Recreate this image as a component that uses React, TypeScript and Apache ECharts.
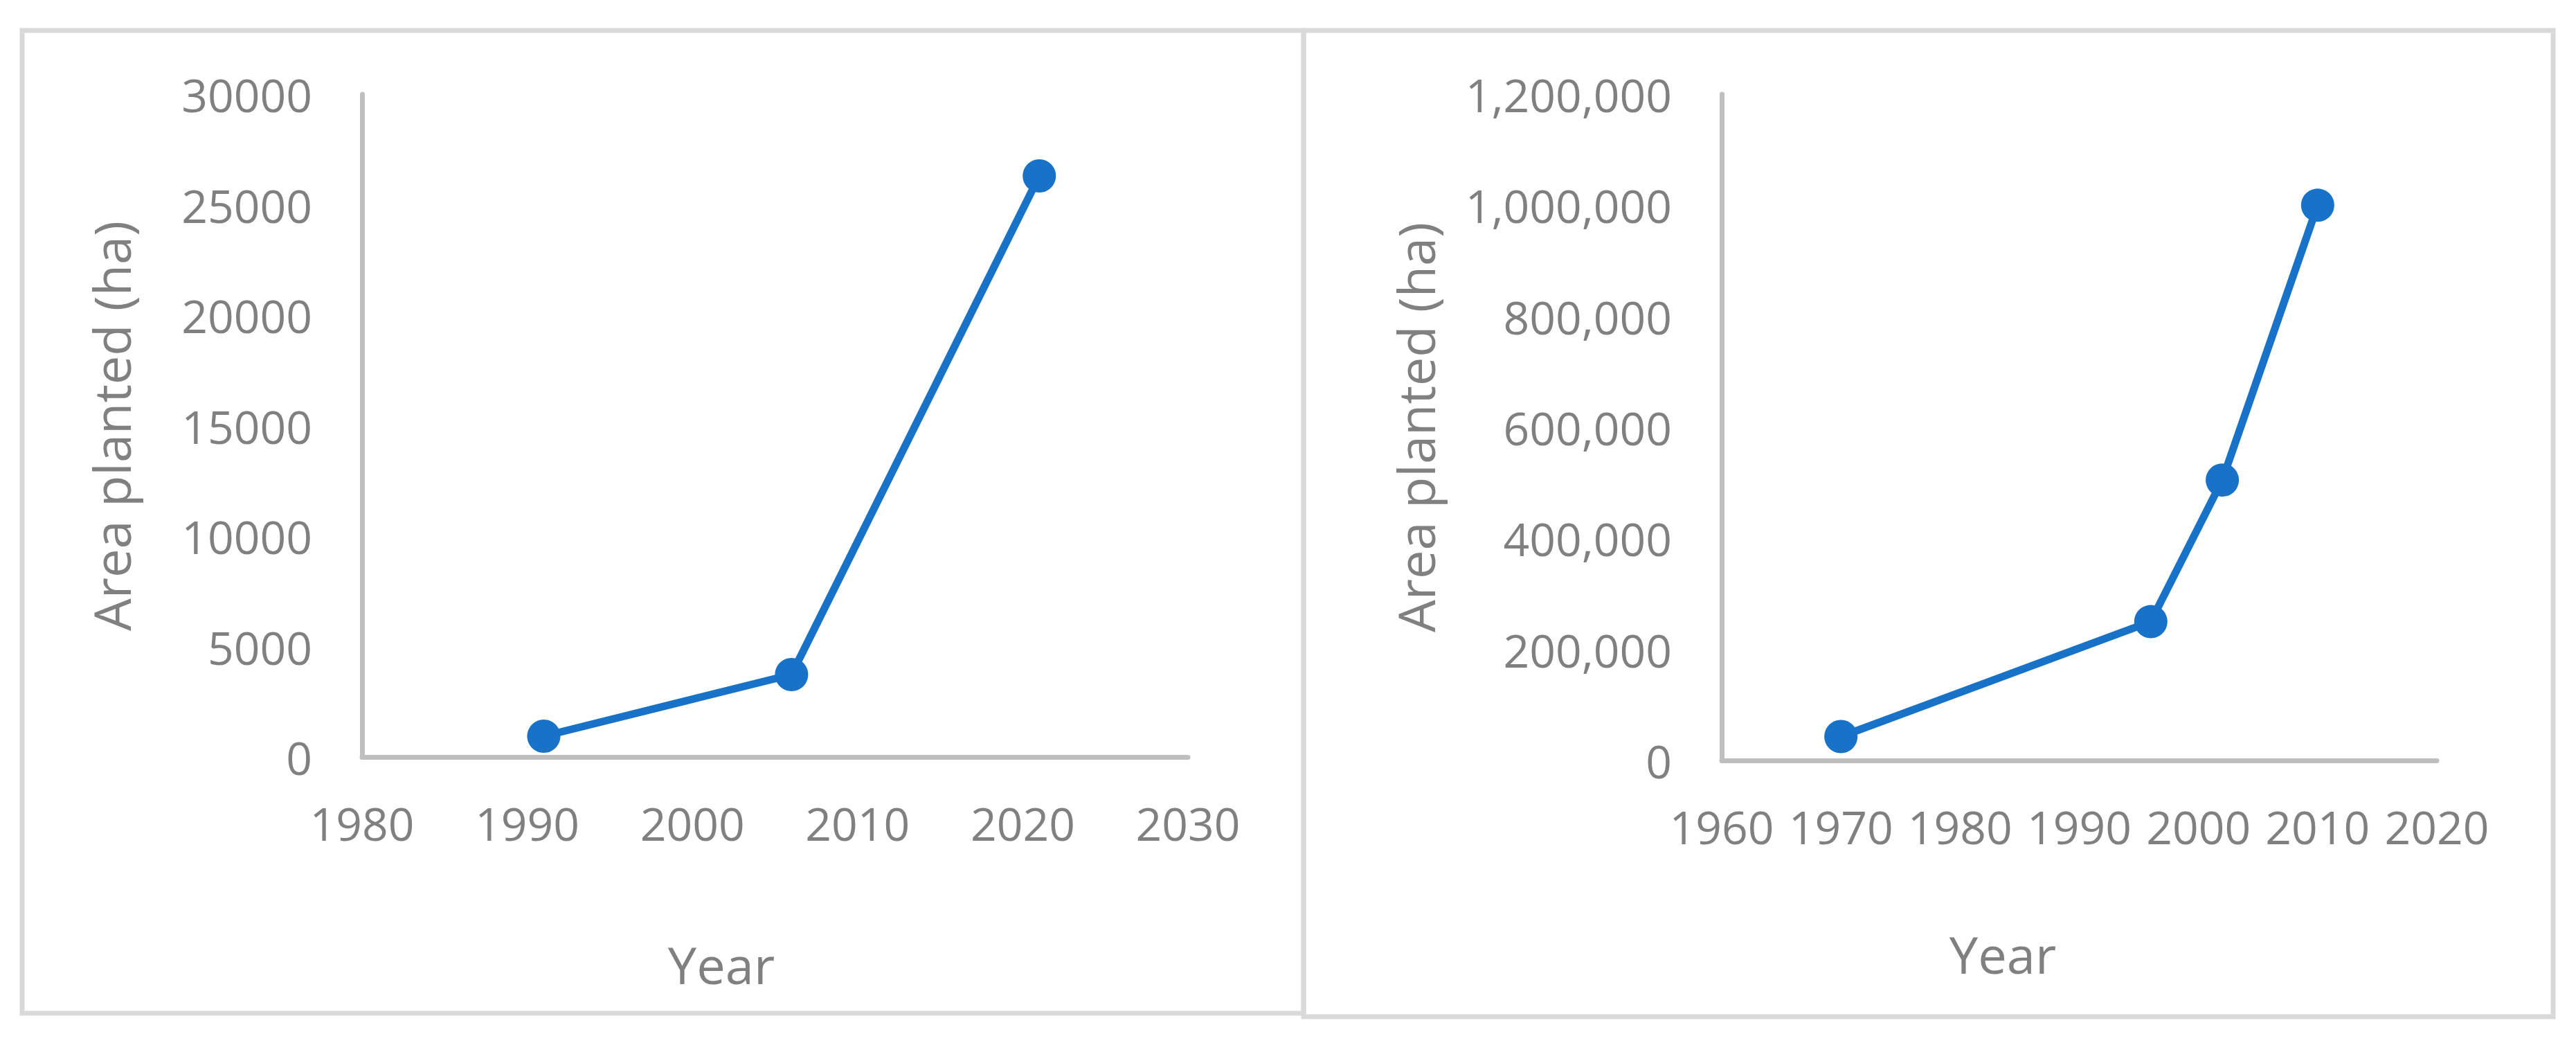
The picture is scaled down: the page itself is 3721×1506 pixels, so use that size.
import React, { useEffect, useRef } from "react";
import * as echarts from "echarts";

// Left panel data
const leftYears = [1991, 2006, 2021];
const leftArea = [940, 3730, 26300];
// Right panel data
const rightYears = [1970, 1996, 2002, 2010];
const rightArea = [43000, 250000, 505000, 1000000];

// Axis ranges / tick spacing
const leftXRange = [1980, 2030, 10];
const leftYRange = [0, 30000, 5000];
const rightXRange = [1960, 2020, 10];
const rightYRange = [0, 1200000, 200000];

const xTitle = "Year";
const yTitle = "Area planted (ha)";

const FONT = "'Open Sans', 'DejaVu Sans', sans-serif";
const GREY = "#808080";
const AXIS = "#bfbfbf";
const BORDER = "#d9d9d9";
const BLUE = "#1872c8";

export default function App() {
  const ref = useRef<HTMLDivElement>(null);
  useEffect(() => {
    if (!ref.current) return;
    const chart = echarts.init(ref.current, undefined, { renderer: "svg" });
    const xAxisBase = (r: number[], gi: number) => ({
      type: "value" as const,
      gridIndex: gi,
      min: r[0],
      max: r[1],
      interval: r[2],
      axisLine: { show: true, onZero: false, lineStyle: { color: AXIS, width: 7 } },
      axisTick: { show: false },
      splitLine: { show: false },
      axisLabel: {
        color: GREY,
        fontFamily: FONT,
        fontSize: 66,
        margin: 62,
        formatter: (v: number) => String(v),
      },
    });
    const yAxisBase = (r: number[], gi: number, commas: boolean) => ({
      type: "value" as const,
      gridIndex: gi,
      min: r[0],
      max: r[1],
      interval: r[2],
      axisLine: { show: true, onZero: false, lineStyle: { color: AXIS, width: 7 } },
      axisTick: { show: false },
      splitLine: { show: false },
      axisLabel: {
        color: GREY,
        fontFamily: FONT,
        fontSize: 66,
        margin: 72,
        formatter: (v: number) => (commas ? v.toLocaleString("en-US") : String(v)),
      },
    });
    const seriesBase = {
      type: "line" as const,
      symbol: "circle",
      symbolSize: 48,
      showSymbol: true,
      lineStyle: { color: BLUE, width: 11 },
      itemStyle: { color: BLUE },
      clip: false,
    };
    const option = {
      animation: false,
      backgroundColor: "#ffffff",
      grid: [
        { left: 523, top: 136, width: 1193, height: 957 },
        { left: 2487, top: 136, width: 1033, height: 962 },
      ],
      xAxis: [xAxisBase(leftXRange, 0), xAxisBase(rightXRange, 1)],
      yAxis: [yAxisBase(leftYRange, 0, false), yAxisBase(rightYRange, 1, true)],
      series: [
        {
          ...seriesBase,
          xAxisIndex: 0,
          yAxisIndex: 0,
          data: leftYears.map((y, i) => [y, leftArea[i]]),
        },
        {
          ...seriesBase,
          xAxisIndex: 1,
          yAxisIndex: 1,
          data: rightYears.map((y, i) => [y, rightArea[i]]),
        },
      ],
      graphic: [
        {
          type: "rect",
          shape: { x: 32, y: 44, width: 1851, height: 1419 },
          style: { fill: "none", stroke: BORDER, lineWidth: 7 },
          z: -1,
        },
        {
          type: "rect",
          shape: { x: 1883, y: 44, width: 1805, height: 1424 },
          style: { fill: "none", stroke: BORDER, lineWidth: 7 },
          z: -1,
        },
        {
          type: "text",
          x: 1042,
          y: 1392,
          style: { text: xTitle, fill: GREY, font: `74px ${FONT}`, align: "center", verticalAlign: "middle" },
        },
        {
          type: "text",
          x: 2893,
          y: 1377,
          style: { text: xTitle, fill: GREY, font: `74px ${FONT}`, align: "center", verticalAlign: "middle" },
        },
        {
          type: "text",
          x: 160,
          y: 615,
          rotation: Math.PI / 2,
          style: { text: yTitle, fill: GREY, font: `74px ${FONT}`, align: "center", verticalAlign: "middle" },
        },
        {
          type: "text",
          x: 2044,
          y: 617,
          rotation: Math.PI / 2,
          style: { text: yTitle, fill: GREY, font: `74px ${FONT}`, align: "center", verticalAlign: "middle" },
        },
      ],
    };
    chart.setOption(option as any);
    return () => chart.dispose();
  }, []);
  return (
    <div
      ref={ref}
      style={{ position: "fixed", left: 0, top: 0, width: 3721, height: 1506, background: "#fff" }}
    />
  );
}
